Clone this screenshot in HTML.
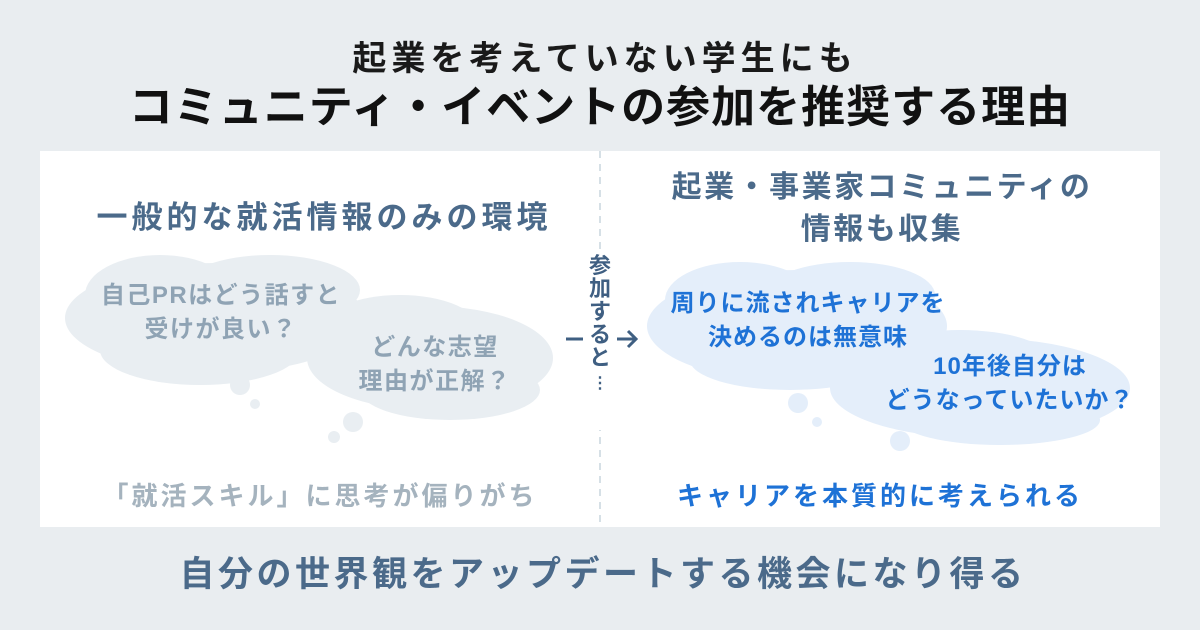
<!DOCTYPE html>
<html><head><meta charset="utf-8"><style>
body{margin:0;width:1200px;height:630px;background:#e9edf0;font-family:"Liberation Sans","Noto Sans CJK JP",sans-serif;position:relative;overflow:hidden}
.t{position:absolute;left:0;width:1200px;text-align:center;font-weight:bold;white-space:nowrap}
.a{position:absolute;text-align:center;font-weight:bold;white-space:nowrap}
</style></head><body>
<div class="t" style="top:38px;font-size:34px;letter-spacing:5px;padding-left:5px;color:#1a1a1a;line-height:42px">起業を考えていない学生にも</div>
<div class="t" style="top:80px;font-size:44px;letter-spacing:1px;color:#111;line-height:56px">コミュニティ・イベントの参加を推奨する理由</div>
<div style="position:absolute;left:40px;top:151px;width:1120px;height:376px;background:#fff"></div>
<svg style="position:absolute;left:0;top:0" width="1200" height="630">
<line x1="600" y1="151" x2="600" y2="527" stroke="#c9d5dd" stroke-width="1.5" stroke-dasharray="7,6"/>
<rect x="578" y="250" width="44" height="180" fill="#fff"/>
<g fill="#e9eef2">
<ellipse cx="215" cy="318" rx="150" ry="55"/>
<ellipse cx="160" cy="295" rx="75" ry="40"/>
<ellipse cx="270" cy="290" rx="90" ry="35"/>
<ellipse cx="200" cy="350" rx="100" ry="35"/>
<ellipse cx="430" cy="358" rx="123" ry="52"/>
<ellipse cx="400" cy="330" rx="80" ry="35"/>
<ellipse cx="450" cy="390" rx="90" ry="30"/>
<circle cx="240" cy="385" r="10"/><circle cx="255" cy="404" r="5"/>
<circle cx="353" cy="422" r="10"/><circle cx="334" cy="437" r="6"/>
</g>
<g fill="#e4eefa">
<ellipse cx="797" cy="326" rx="150" ry="56"/>
<ellipse cx="740" cy="300" rx="75" ry="38"/>
<ellipse cx="850" cy="295" rx="85" ry="33"/>
<ellipse cx="790" cy="360" rx="100" ry="30"/>
<ellipse cx="980" cy="388" rx="150" ry="50"/>
<ellipse cx="960" cy="360" rx="90" ry="30"/>
<ellipse cx="1000" cy="420" rx="100" ry="25"/>
<circle cx="798" cy="403" r="10"/><circle cx="817" cy="422" r="5"/>
<circle cx="900" cy="441" r="10"/>
</g>
<line x1="566" y1="339" x2="583" y2="339" stroke="#3f5f82" stroke-width="3"/>
<path d="M617 339 H636 M628 331 L636 339 L628 347" stroke="#3f5f82" stroke-width="3" fill="none"/>
</svg>
<div class="a" style="left:588px;top:254px;width:24px;font-size:22px;line-height:23px;color:#3f5f82">参<br>加<br>す<br>る<br>と<br><span style="font-size:16px">⋮</span></div>
<div class="a" style="left:40px;top:192px;width:560px;font-size:31px;letter-spacing:4px;padding-left:4px;color:#4b6a8a">一般的な就活情報のみの環境</div>
<div class="a" style="left:600px;top:167px;width:560px;font-size:30px;letter-spacing:2.5px;padding-left:2px;line-height:42px;color:#4b6a8a">起業・事業家コミュニティの<br>情報も収集</div>
<div class="a" style="left:76px;top:279px;width:290px;font-size:24px;letter-spacing:1.5px;line-height:34px;color:#8fa3b4">自己PRはどう話すと<br>受けが良い？</div>
<div class="a" style="left:325px;top:331px;width:220px;font-size:24px;letter-spacing:1.5px;line-height:34px;color:#8fa3b4">どんな志望<br>理由が正解？</div>
<div class="a" style="left:658px;top:287px;width:300px;font-size:24px;letter-spacing:1px;line-height:34px;color:#1e72d6">周りに流されキャリアを<br>決めるのは無意味</div>
<div class="a" style="left:880px;top:350px;width:260px;font-size:24px;letter-spacing:1px;line-height:34px;color:#1e72d6">10年後自分は<br>どうなっていたいか？</div>
<div class="a" style="left:40px;top:476px;width:560px;font-size:26px;letter-spacing:3px;color:#a5b3be">「就活スキル」に思考が偏りがち</div>
<div class="a" style="left:600px;top:476px;width:560px;font-size:26px;letter-spacing:3px;color:#1e72d6">キャリアを本質的に考えられる</div>
<div class="t" style="top:552px;font-size:35px;letter-spacing:3.5px;padding-left:3px;color:#4b6a8a;line-height:46px">自分の世界観をアップデートする機会になり得る</div>
</body></html>
